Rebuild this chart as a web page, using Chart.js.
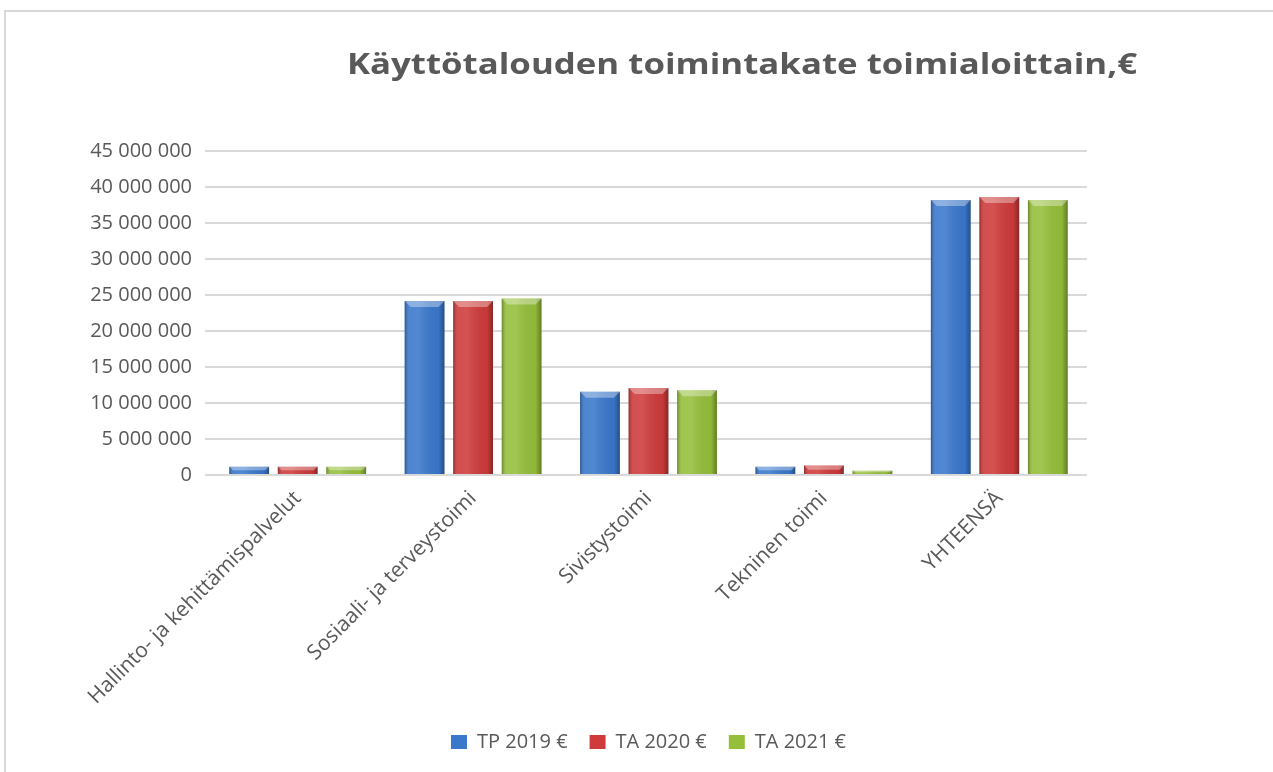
<!DOCTYPE html>
<html>
<head>
<meta charset="utf-8">
<script src="https://cdn.jsdelivr.net/npm/chart.js@4.4.1/dist/chart.umd.min.js"></script>
<style>
  body { margin: 0; background: #fff; }
  #wrap {
    position: absolute; left: 4px; top: 10px; width: 1269px; height: 762px;
    border-top: 2px solid #d9d9d9; border-left: 2px solid #d9d9d9; box-sizing: border-box;
  }
  #title {
    position: absolute; left: 292px; top: 48px; width: 900px; text-align: center;
    font-family: "Open Sans", sans-serif; font-weight: bold; font-size: 29px; line-height: 29px;
    color: #595959; white-space: nowrap; transform: scaleX(1.2); transform-origin: 450px 0;
  }
</style>
</head>
<body>
<div id="wrap"><canvas id="chart"></canvas></div>
<div id="title">Käyttötalouden toimintakate toimialoittain,€</div>
<script>
const categories = ['Hallinto- ja kehittämispalvelut', 'Sosiaali- ja terveystoimi', 'Sivistystoimi', 'Tekninen toimi', 'YHTEENSÄ'];
const seriesNames = ['TP 2019 €', 'TA 2020 €', 'TA 2021 €'];
const tp2019 = [1150000, 24170000, 11570000, 1150000, 38190000];
const ta2020 = [1150000, 24170000, 12080000, 1330000, 38600000];
const ta2021 = [1150000, 24500000, 11760000, 600000, 38200000];
const yMax = 45000000;
const yStep = 5000000;

const colors = ['#3a78cc', '#cf3b3b', '#95bf3a'];
const font = "'Open Sans', sans-serif";

function spaced(v) {
  return String(v).replace(/\B(?=(\d{3})+(?!\d))/g, ' ');
}

// gives each bar a bevelled look like the office chart
const bevel = {
  id: 'bevel',
  afterDatasetsDraw(chart) {
    const ctx = chart.ctx;
    chart.data.datasets.forEach((ds, i) => {
      const meta = chart.getDatasetMeta(i);
      meta.data.forEach(bar => {
        const p = bar.getProps(['x', 'y', 'base', 'width'], true);
        const left = p.x - p.width / 2;
        const right = p.x + p.width / 2;
        const h = p.base - p.y;
        const g = ctx.createLinearGradient(left, 0, right, 0);
        g.addColorStop(0, 'rgba(0,0,0,0.30)');
        g.addColorStop(0.12, 'rgba(255,255,255,0.10)');
        g.addColorStop(0.35, 'rgba(255,255,255,0.12)');
        g.addColorStop(0.85, 'rgba(0,0,0,0.04)');
        g.addColorStop(1, 'rgba(0,0,0,0.35)');
        ctx.save();
        ctx.fillStyle = g;
        ctx.fillRect(left, p.y, p.width, h);
        const cap = Math.min(6, h / 2);
        ctx.beginPath();
        ctx.moveTo(left, p.y);
        ctx.lineTo(right, p.y);
        ctx.lineTo(right - cap, p.y + cap);
        ctx.lineTo(left + cap, p.y + cap);
        ctx.closePath();
        ctx.fillStyle = 'rgba(255,255,255,0.35)';
        ctx.fill();
        ctx.restore();
      });
    });
  }
};

const ctx = document.getElementById('chart').getContext('2d');
new Chart(ctx, {
  type: 'bar',
  data: {
    labels: categories,
    datasets: [
      { label: seriesNames[0], data: tp2019, backgroundColor: colors[0] },
      { label: seriesNames[1], data: ta2020, backgroundColor: colors[1] },
      { label: seriesNames[2], data: ta2021, backgroundColor: colors[2] }
    ]
  },
  options: {
    responsive: true,
    maintainAspectRatio: false,
    animation: false,
    categoryPercentage: 0.83,
    barPercentage: 0.82,
    layout: { padding: { top: 139, right: 186, bottom: 10, left: 0 } },
    plugins: {
      title: { display: false },
      tooltip: { enabled: false },
      legend: {
        position: 'bottom',
        fullSize: false,
        labels: {
          color: '#595959',
          font: { family: font, size: 20 },
          boxWidth: 16,
          boxHeight: 14,
          padding: 22
        }
      }
    },
    scales: {
      x: {
        grid: { display: false },
        border: { display: false },
        ticks: {
          color: '#595959',
          font: { family: font, size: 21 },
          minRotation: 45,
          maxRotation: 45,
          autoSkip: false
        },
        afterFit(scale) { scale.height = 235; }
      },
      y: {
        min: 0,
        max: yMax,
        grid: { color: '#d9d9d9', lineWidth: 2, tickLength: 5 },
        border: { display: false },
        ticks: {
          stepSize: yStep,
          color: '#595959',
          font: { family: font, size: 20 },
          padding: 13,
          callback: v => spaced(v)
        },
        afterFit(scale) { scale.width = 204; }
      }
    }
  },
  plugins: [bevel]
});
</script>
</body>
</html>
